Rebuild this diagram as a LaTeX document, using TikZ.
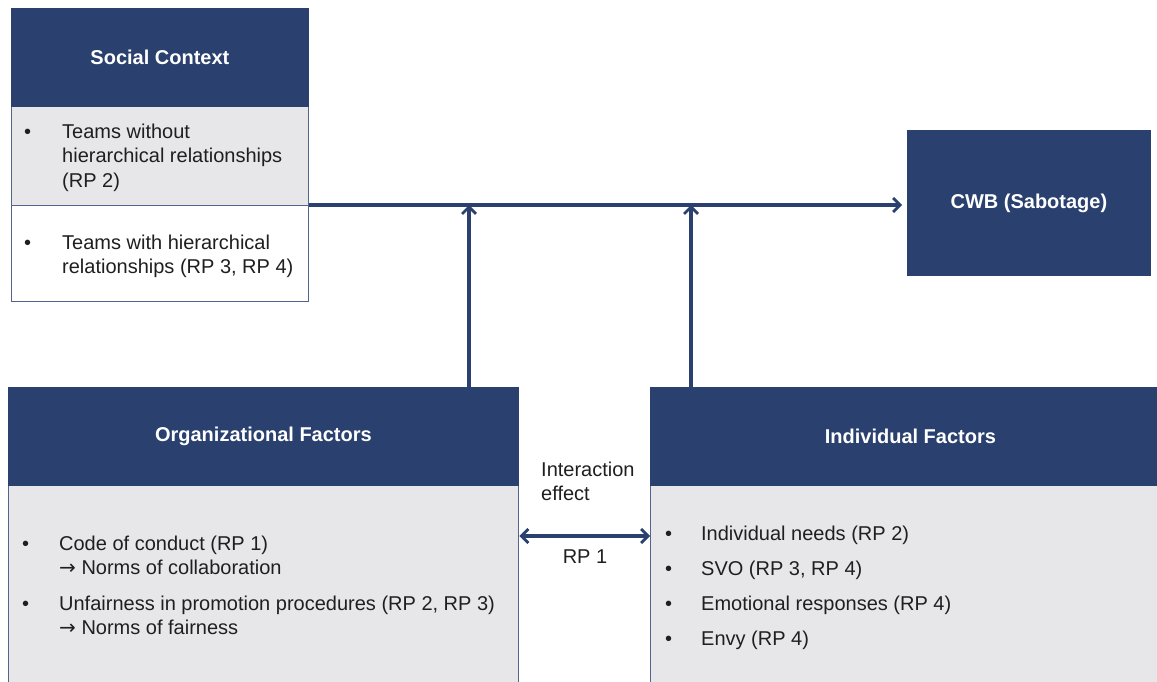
\documentclass[tikz,border=0pt]{standalone}
\usepackage{fontspec}
\setmainfont{Liberation Sans}
\newfontfamily\symfont{DejaVu Sans}
\usetikzlibrary{arrows.meta}
\definecolor{navy}{HTML}{2A406F}
\definecolor{panel}{HTML}{E7E7E9}
\definecolor{edge}{HTML}{51658F}
\newcommand{\bodysize}{\fontsize{20}{24}\selectfont}
\newcommand{\headsize}{\fontsize{20}{24}\selectfont\bfseries}
\newcommand{\implies}{{\symfont →}}
\begin{document}
\begin{tikzpicture}[x=1pt,y=-1pt,
  header/.style={draw=navy, fill=navy, text=white, font=\headsize,
    anchor=north west, inner sep=0pt, line width=0.8pt},
  panelbox/.style={draw=edge, fill=panel, anchor=north west, inner sep=0pt, line width=1.3pt},
  plainbox/.style={draw=edge, fill=white, anchor=north west, inner sep=0pt, line width=1.3pt},
  listtext/.style={anchor=north west, inner sep=0pt, align=left, font=\bodysize, text=black!88},
  tip/.tip={Straight Barb[length=7pt,width=14pt,line width=2.8pt]},
  arr/.style={draw=navy, line width=3.2pt, -tip},
  arrboth/.style={draw=navy, line width=3.2pt, tip-tip}
]
\useasboundingbox (0,0) rectangle (1157,682);

% Social context box
\node[panelbox, minimum width=297pt, minimum height=99pt] (sc1) at (11,106) {};
\node[plainbox, minimum width=297pt, minimum height=96pt] (sc2) at (11,205) {};
\node[header, minimum width=297pt, minimum height=98pt] (sch) at (11,8) {Social Context};

% CWB box
\node[header, minimum width=243pt, minimum height=145pt] (cwb) at (907,130) {CWB (Sabotage)};

% Organizational factors
\node[panelbox, minimum width=510pt, minimum height=210pt] (orgb) at (8,485) {};
\node[header, minimum width=510pt, minimum height=98pt] (orgh) at (8,387) {Organizational Factors};

% Individual factors
\node[panelbox, minimum width=520pt, minimum height=210pt] (indb) at (650,485) {};
\node[header, minimum width=520pt, minimum height=98pt] (indh) at (650,387) {Individual Factors};

% Lists
\node[listtext] (scl1) at (24,122) {%
  \begin{tabular}{@{}p{38pt}@{}l@{}}
  • & Teams without\\
    & hierarchical relationships\\
    & (RP 2)
  \end{tabular}};
\node[listtext] (scl2) at (24,232) {%
  \begin{tabular}{@{}p{38pt}@{}l@{}}
  • & Teams with hierarchical\\
    & relationships (RP 3, RP 4)
  \end{tabular}};
\node[listtext] (orgl) at (22,533) {%
  \begin{tabular}{@{}p{37pt}@{}l@{}}
  • & Code of conduct (RP 1)\\
    & \implies{} Norms of collaboration\\[12pt]
  • & Unfairness in promotion procedures (RP 2, RP 3)\\
    & \implies{} Norms of fairness
  \end{tabular}};
\node[listtext] (indl) at (665,523) {%
  \begin{tabular}{@{}p{36pt}@{}l@{}}
  • & Individual needs (RP 2)\\[11pt]
  • & SVO (RP 3, RP 4)\\[11pt]
  • & Emotional responses (RP 4)\\[11pt]
  • & Envy (RP 4)
  \end{tabular}};

% Connectors
\coordinate (m1) at (469,205);
\coordinate (m2) at (691,205);
\coordinate (ia) at (585,536);
\draw[arr, shorten >=5pt] (sc2.north east) -- (sc2.north east -| cwb.west);
\draw[arr] (m1 |- orgh.north) -- (m1);
\draw[arr] (m2 |- indh.north) -- (m2);
\draw[arrboth] (ia -| orgb.east) -- (ia -| indb.west);

% Labels
\node[listtext] (ie) at (541,462) {Interaction\\effect};
\node[font=\bodysize, text=black!88, inner sep=0pt] (rp) at (585,557) {RP 1};
\end{tikzpicture}
\end{document}
